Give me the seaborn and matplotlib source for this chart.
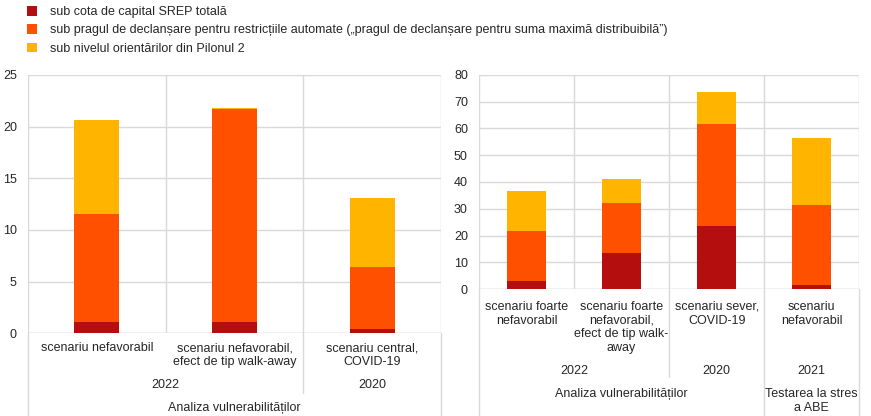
import pandas as pd
import matplotlib.pyplot as plt
import seaborn as sns
from matplotlib.patches import Patch
from matplotlib.transforms import blended_transform_factory

# legend / series
series_names = [
    "sub cota de capital SREP totală",
    "sub pragul de declanșare pentru restricțiile automate („pragul de declanșare pentru suma maximă distribuibilă”)",
    "sub nivelul orientărilor din Pilonul 2",
]
colors = ["#b40e0e", "#ff5000", "#ffb400"]

# left panel
left_labels = ["scenariu nefavorabil", "scenariu nefavorabil,\nefect de tip walk-away",
               "scenariu central,\nCOVID-19"]
left_srep = [1.13, 1.13, 0.39]
left_mda = [10.45, 20.57, 6.06]
left_p2g = [9.02, 0.08, 6.65]
left_years = [("2022", 0, 1), ("2020", 2, 2)]
left_groups = [("Analiza vulnerabilităților", 0, 2)]

# right panel
right_labels = ["scenariu foarte\nnefavorabil", "scenariu foarte\nnefavorabil,\nefect de tip walk-\naway",
                "scenariu sever,\nCOVID-19", "scenariu\nnefavorabil"]
right_srep = [2.9, 13.6, 23.4, 1.6]
right_mda = [18.9, 18.7, 38.2, 29.9]
right_p2g = [14.8, 8.8, 12.0, 24.9]
right_years = [("2022", 0, 1), ("2020", 2, 2), ("2021", 3, 3)]
right_groups = [("Analiza vulnerabilităților", 0, 2), ("Testarea la stres\na ABE", 3, 3)]

sns.set_style("white")
plt.rcParams["font.family"] = ["Liberation Sans", "DejaVu Sans"]
plt.rcParams["font.size"] = 9

GRID = "#d9d9d9"
W, H = 871, 416
fig = plt.figure(figsize=(W / 100, H / 100), dpi=100)


def px_axes(l, r, top, bottom):
    return fig.add_axes([l / W, (H - bottom) / H, (r - l) / W, (bottom - top) / H])


def draw_panel(ax, labels, srep, mda, p2g, width, ymax, step, years, groups,
               year_y, group_y, year_line, full_line, xpad):
    df = pd.DataFrame({"cat": labels, "srep": srep, "mda": mda, "p2g": p2g})
    df["lvl1"] = df["srep"]
    df["lvl2"] = df["srep"] + df["mda"]
    df["lvl3"] = df["lvl2"] + df["p2g"]
    for col, c in zip(["lvl3", "lvl2", "lvl1"], colors[::-1]):
        sns.barplot(data=df, x="cat", y=col, color=c, width=width, ax=ax,
                    saturation=1, linewidth=0, order=labels)
    n = len(labels)
    ax.set_xlim(-0.5, n - 0.5)
    ax.set_ylim(0, ymax)
    ax.set_yticks(range(0, ymax + 1, step))
    ax.set_xlabel("")
    ax.set_ylabel("")
    for s in ax.spines.values():
        s.set_visible(False)
    ax.yaxis.grid(True, color=GRID, lw=1)
    ax.set_axisbelow(True)
    for b in [i + 0.5 for i in range(-1, n)]:
        ax.axvline(b, color=GRID, lw=1, zorder=0)
    ax.axhline(0, color=GRID, lw=1, zorder=0.5)
    ax.tick_params(axis="both", length=0, labelsize=9)
    ax.tick_params(axis="y", pad=8)
    ax.tick_params(axis="x", pad=xpad)
    ax.set_xticks(range(n))
    ax.set_xticklabels(labels, linespacing=1.2)

    hpx = ax.get_position().height * H
    tr = blended_transform_factory(ax.transData, ax.transAxes)
    for name, a, b in years:
        ax.text((a + b) / 2, -year_y / hpx, name, transform=tr, ha="center", va="center")
    for name, a, b in groups:
        ax.text((a + b) / 2, -group_y / hpx, name, transform=tr, ha="center", va="top",
                linespacing=1.2)
    # separators below the axis
    ends = sorted({b + 0.5 for _, _, b in years[:-1]})
    group_edges = {-0.5, n - 0.5} | {b + 0.5 for _, _, b in groups[:-1]}
    for x in ends:
        if x not in group_edges:
            ax.plot([x, x], [0, -year_line / hpx], color=GRID, lw=1, transform=tr, clip_on=False)
    for x in group_edges:
        ax.plot([x, x], [0, -full_line / hpx], color=GRID, lw=1, transform=tr, clip_on=False)


ax1 = px_axes(28, 441, 75, 333.3)
draw_panel(ax1, left_labels, left_srep, left_mda, left_p2g, 0.325, 25, 5,
           left_years, left_groups, 52, 69, 60, 85, 6.5)

ax2 = px_axes(479, 859.3, 75, 289)
draw_panel(ax2, right_labels, right_srep, right_mda, right_p2g, 0.407, 80, 10,
           right_years, right_groups, 81.5, 99, 88, 130, 8.5)

handles = [Patch(facecolor=c, edgecolor="none") for c in colors]
fig.legend(handles, series_names, loc="upper left", bbox_to_anchor=(27 / W, 1 - 6 / H),
           frameon=False, fontsize=9, handlelength=0.8, handleheight=0.8,
           handletextpad=1.0, labelspacing=0.5, borderpad=0, borderaxespad=0)

fig.savefig("out.png", dpi=100)
